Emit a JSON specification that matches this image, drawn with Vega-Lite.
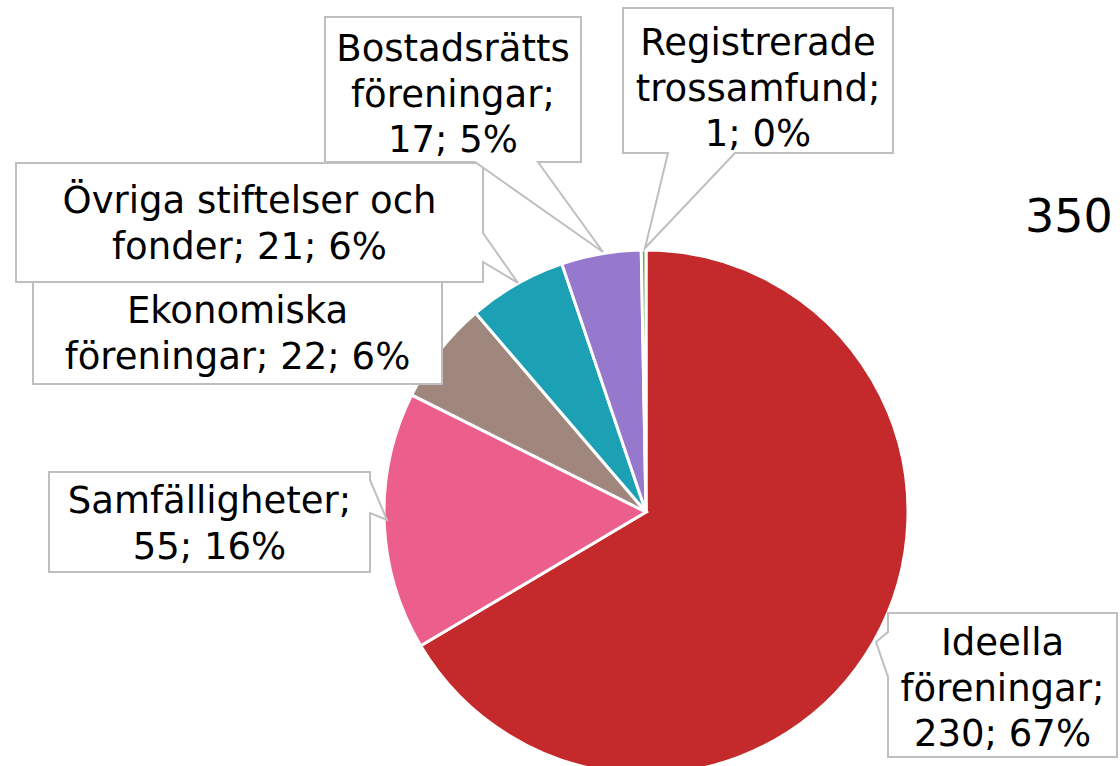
{
  "$schema": "https://vega.github.io/schema/vega-lite/v6.json",
  "width": 948,
  "height": 508,
  "padding": {"left": 172, "top": 258, "right": 0, "bottom": 0},
  "autosize": {"type": "none"},
  "background": "white",
  "config": {
    "view": {"stroke": null},
    "text": {"font": "DejaVu Sans", "fontSize": 37, "lineHeight": 45.5, "lineBreak": "\n", "align": "center", "baseline": "middle", "color": "#000000"}
  },
  "data": {
    "values": [
      {"category": "Ideella föreningar", "count": 230, "label": "Ideella\nföreningar;\n230; 67%"},
      {"category": "Samfälligheter", "count": 55, "label": "Samfälligheter;\n55; 16%"},
      {"category": "Ekonomiska föreningar", "count": 22, "label": "Ekonomiska\nföreningar; 22; 6%"},
      {"category": "Övriga stiftelser och fonder", "count": 21, "label": "Övriga stiftelser och\nfonder; 21; 6%"},
      {"category": "Bostadsrättsföreningar", "count": 17, "label": "Bostadsrätts\nföreningar;\n17; 5%"},
      {"category": "Registrerade trossamfund", "count": 1, "label": "Registrerade\ntrossamfund;\n1; 0%"}
    ]
  },
  "layer": [
    {
      "mark": {"type": "arc", "outerRadius": 262, "stroke": "white", "strokeWidth": 3},
      "encoding": {
        "theta": {"field": "count", "type": "quantitative", "stack": true},
        "order": {"field": "count", "sort": "descending"},
        "color": {
          "field": "category", "type": "nominal", "legend": null,
          "scale": {
            "domain": ["Ideella föreningar", "Samfälligheter", "Ekonomiska föreningar", "Övriga stiftelser och fonder", "Bostadsrättsföreningar", "Registrerade trossamfund"],
            "range": ["#C4292B", "#EC5E8C", "#A0877D", "#1CA0B4", "#9678CD", "#6AAE5A"]
          }
        }
      }
    },
    {
      "mark": {"type": "point", "filled": true, "fill": "white", "stroke": "#BFBFBF", "strokeWidth": 2, "opacity": 1, "size": 4},
      "encoding": {
        "shape": {
          "field": "category", "type": "nominal", "legend": null,
          "scale": {
            "domain": ["Ideella föreningar", "Samfälligheter", "Ekonomiska föreningar", "Övriga stiftelser och fonder", "Bostadsrättsföreningar", "Registrerade trossamfund"],
            "range": [
              "M242,101H471V245H242V165L230,130L242,120Z",
              "M-597,-40H-276V-32L-259,8L-276,1V60H-597Z",
              "M-613,-230H-204V-128H-613Z",
              "M-630,-349H-163V-279L-128,-229L-163,-250V-230H-630Z",
              "M-321,-495H-65V-350H-108L-43,-260L-171,-350H-321Z",
              "M-23,-504H247V-359H89L-1,-264L22,-359H-23Z"
            ]
          }
        }
      }
    },
    {
      "transform": [{"filter": "datum.category === 'Ideella föreningar'"}],
      "mark": {"type": "text", "dx": 356.5, "dy": 132},
      "encoding": {"text": {"field": "label"}}
    },
    {
      "transform": [{"filter": "datum.category === 'Samfälligheter'"}],
      "mark": {"type": "text", "dx": -436.5, "dy": -10},
      "encoding": {"text": {"field": "label"}}
    },
    {
      "transform": [{"filter": "datum.category === 'Ekonomiska föreningar'"}],
      "mark": {"type": "text", "dx": -408.5, "dy": -199.75},
      "encoding": {"text": {"field": "label"}}
    },
    {
      "transform": [{"filter": "datum.category === 'Övriga stiftelser och fonder'"}],
      "mark": {"type": "text", "dx": -396.5, "dy": -309.75},
      "encoding": {"text": {"field": "label"}}
    },
    {
      "transform": [{"filter": "datum.category === 'Bostadsrättsföreningar'"}],
      "mark": {"type": "text", "dx": -193, "dy": -462},
      "encoding": {"text": {"field": "label"}}
    },
    {
      "transform": [{"filter": "datum.category === 'Registrerade trossamfund'"}],
      "mark": {"type": "text", "dx": 112, "dy": -468},
      "encoding": {"text": {"field": "label"}}
    },
    {
      "data": {"values": [{"title": "350"}]},
      "mark": {"type": "text", "align": "left", "baseline": "alphabetic", "fontSize": 46, "dx": 379, "dy": -280},
      "encoding": {"text": {"field": "title"}}
    }
  ]
}
